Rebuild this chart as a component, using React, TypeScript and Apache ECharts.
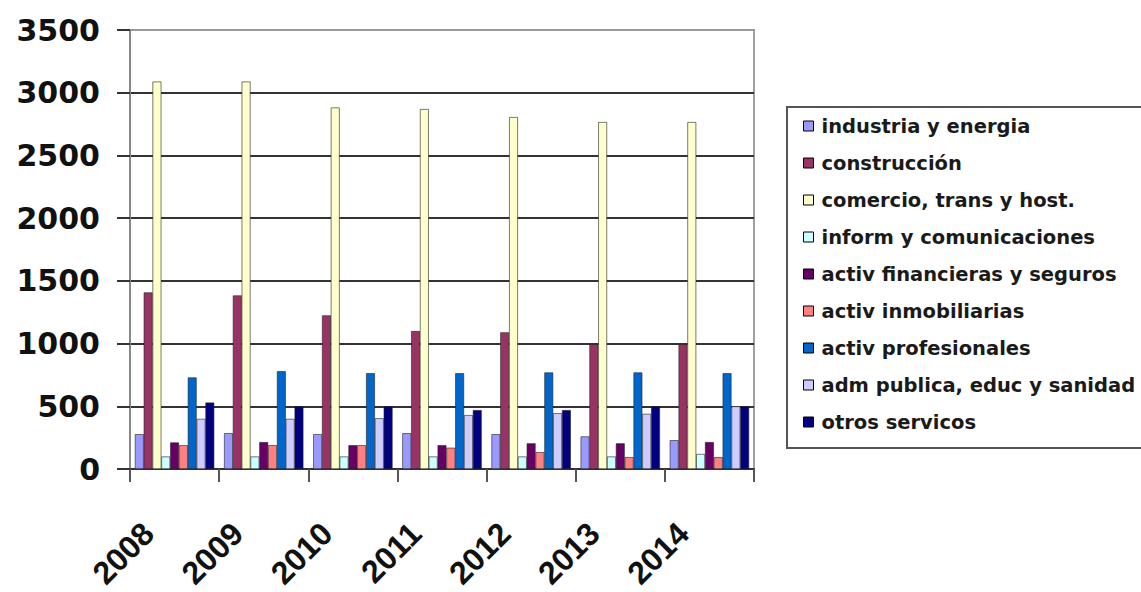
import React, { useEffect, useRef } from "react";
import * as echarts from "echarts";

const years = ["2008", "2009", "2010", "2011", "2012", "2013", "2014"];
const yTicks = { min: 0, max: 3500, interval: 500 };

const seriesNames = [
  "industria y energia",
  "construcción",
  "comercio, trans y host.",
  "inform y comunicaciones",
  "activ financieras y seguros",
  "activ inmobiliarias",
  "activ profesionales",
  "adm publica, educ y sanidad",
  "otros servicos",
];

const industria = [278, 286, 278, 286, 278, 260, 230];
const construccion = [1408, 1384, 1225, 1100, 1090, 995, 995];
const comercio = [3089, 3089, 2882, 2870, 2806, 2766, 2766];
const inform = [100, 100, 100, 100, 100, 100, 120];
const financieras = [212, 215, 190, 190, 205, 205, 215];
const inmobiliarias = [190, 190, 190, 170, 135, 95, 95];
const profesionales = [730, 780, 764, 764, 770, 770, 764];
const admPublica = [400, 400, 405, 430, 445, 440, 500];
const otros = [530, 500, 500, 470, 470, 500, 500];

const seriesValues = [
  industria,
  construccion,
  comercio,
  inform,
  financieras,
  inmobiliarias,
  profesionales,
  admPublica,
  otros,
];

const colors = [
  "#9999FF",
  "#993366",
  "#FFFFCC",
  "#CCFFFF",
  "#660066",
  "#FF8080",
  "#0066CC",
  "#CCCCFF",
  "#000080",
];

export default function App() {
  const ref = useRef<HTMLDivElement>(null);

  useEffect(() => {
    if (!ref.current) return;
    const chart = echarts.init(ref.current, null, { renderer: "svg" });
    const option = {
      animation: false,
      backgroundColor: "#ffffff",
      color: colors,
      grid: {
        left: 130,
        right: 387,
        top: 30,
        bottom: 122,
        show: true,
        borderColor: "#a0a0a0",
        borderWidth: 2,
        backgroundColor: "#ffffff",
      },
      graphic: [
        {
          type: "rect",
          z: -1,
          shape: { x: 787, y: 107, width: 400, height: 341 },
          style: { fill: "#ffffff", stroke: "#555555", lineWidth: 2 },
        },
      ],
      legend: {
        orient: "vertical",
        left: 803,
        top: 116,
        padding: 0,
        itemWidth: 10,
        itemHeight: 10,
        itemGap: 17,
        icon: "rect",
        itemStyle: { borderColor: "#000", borderWidth: 1 },
        textStyle: {
          fontFamily: "DejaVu Sans",
          fontWeight: "bold",
          fontSize: 19.5,
          lineHeight: 20,
          color: "#1a1a1a",
          padding: [0, 0, 0, 3],
        },
        data: seriesNames,
      },
      xAxis: {
        type: "category",
        data: years,
        axisLine: { lineStyle: { color: "#333", width: 2 } },
        axisTick: {
          show: true,
          length: 13,
          alignWithLabel: false,
          lineStyle: { color: "#555", width: 2 },
        },
        axisLabel: {
          rotate: 45,
          margin: 33,
          padding: [0, 37, 0, 0],
          fontFamily: "Liberation Sans",
          fontWeight: "bold",
          fontSize: 32,
          color: "#111",
        },
        splitLine: { show: false },
      },
      yAxis: {
        type: "value",
        min: yTicks.min,
        max: yTicks.max,
        interval: yTicks.interval,
        axisLine: { show: true, lineStyle: { color: "#888", width: 2 } },
        axisTick: {
          show: true,
          length: 13,
          lineStyle: { color: "#333", width: 2 },
        },
        axisLabel: {
          margin: 30,
          fontFamily: "DejaVu Sans",
          fontWeight: "bold",
          fontSize: 30,
          color: "#111",
          formatter: (v: number) => String(v),
        },
        splitLine: {
          show: true,
          lineStyle: {
            color: ["#333", "#333", "#333", "#333", "#333", "#333", "#333", "#999"],
            width: 2,
          },
        },
      },
      series: seriesNames.map((name, i) => ({
        name,
        type: "bar",
        data: seriesValues[i],
        barGap: "0%",
        barCategoryGap: "11%",
        itemStyle: {
          color: colors[i],
          borderColor: "#222",
          borderWidth: 0.6,
        },
      })),
    };
    chart.setOption(option);
    return () => chart.dispose();
  }, []);

  return (
    <div
      ref={ref}
      style={{ position: "fixed", left: 0, top: 0, width: 1141, height: 592 }}
    />
  );
}
